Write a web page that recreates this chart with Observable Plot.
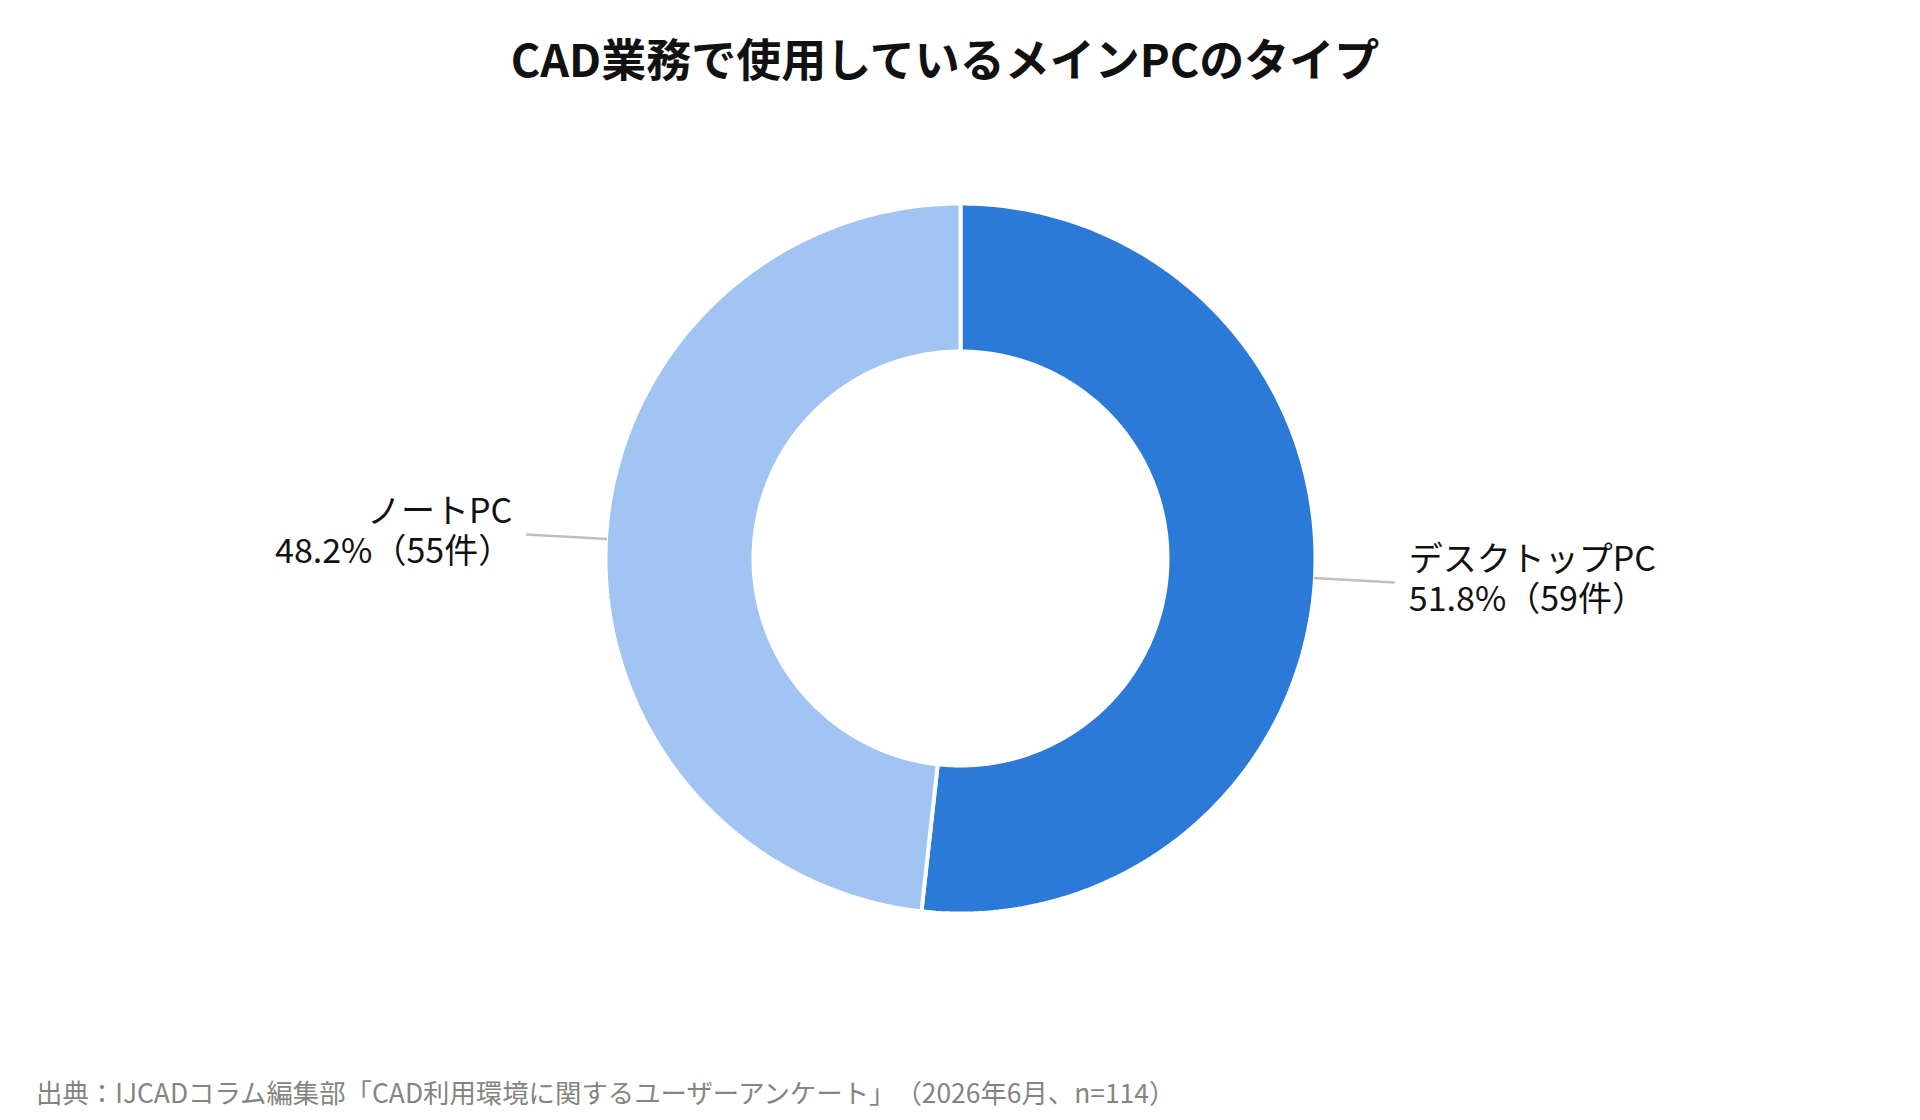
<!DOCTYPE html>
<html>
<head>
<meta charset="utf-8">
<script src="https://cdn.jsdelivr.net/npm/d3@7"></script>
<script src="https://cdn.jsdelivr.net/npm/@observablehq/plot@0.6"></script>
<style>
  html, body { margin: 0; padding: 0; background: #fff; }
  * { text-spacing-trim: space-all; }
  #wrap { position: relative; width: 1920px; height: 1120px; overflow: hidden; font-family: "Noto Sans CJK JP", "Noto Sans", sans-serif; }
  #title { position: absolute; left: 0; top: 35px; width: 1890px; text-align: center; font-size: 45px; font-weight: 700; line-height: 1; color: #111; }
  #chart { position: absolute; left: 0; top: 110px; }
  #caption { position: absolute; left: 36px; top: 1079px; font-size: 26.4px; line-height: 1; color: #85857f; white-space: nowrap; }
  svg text { text-spacing-trim: space-all; }
</style>
</head>
<body>
<div id="wrap">
  <div id="title"></div>
  <div id="chart"></div>
  <div id="caption"></div>
</div>
<script>
const titleText = "CAD業務で使用しているメインPCのタイプ";
const captionText = "出典：IJCADコラム編集部「CAD利用環境に関するユーザーアンケート」（2026年6月、n=114）";
const categories = ["デスクトップPC", "ノートPC"];
const counts = [59, 55];
const percents = [51.8, 48.2];
const colors = ["#2b7ad7", "#a1c4f3"];

document.getElementById("title").textContent = titleText;
document.getElementById("caption").textContent = captionText;

const W = 1920, H = 950;
const cy = 448;              // center from top of svg
const rOuter = 355, rInner = 207, leader = 80;

const pie = d3.pie().sort(null).value(d => d.count);
const rows = categories.map((c, i) => ({category: c, count: counts[i], percent: percents[i]}));
const arcs = pie(rows);

// polygon points for each slice (angles clockwise from top)
const poly = [];
arcs.forEach(a => {
  const n = 240;
  for (let k = 0; k <= n; k++) {
    const t = a.startAngle + (a.endAngle - a.startAngle) * k / n;
    poly.push({category: a.data.category, x: rOuter * Math.sin(t), y: rOuter * Math.cos(t)});
  }
  for (let k = n; k >= 0; k--) {
    const t = a.startAngle + (a.endAngle - a.startAngle) * k / n;
    poly.push({category: a.data.category, x: rInner * Math.sin(t), y: rInner * Math.cos(t)});
  }
});

const leaders = arcs.map(a => {
  const m = (a.startAngle + a.endAngle) / 2;
  const r0 = rOuter - 1, r1 = rOuter + leader;
  return {
    category: a.data.category,
    x1: r0 * Math.sin(m), y1: r0 * Math.cos(m),
    x2: r1 * Math.sin(m), y2: r1 * Math.cos(m),
    right: Math.sin(m) > 0,
    label: `${a.data.category}\n${a.data.percent.toFixed(1)}%（${a.data.count}件）`
  };
});

const plot = Plot.plot({
  width: W,
  height: H,
  margin: 0,
  x: {domain: [-960, 960], range: [0, W], axis: null},
  y: {domain: [cy - H, cy], range: [H, 0], axis: null},
  color: {domain: categories, range: colors},
  style: {fontFamily: "'Noto Sans CJK JP', 'Noto Sans', sans-serif", background: "white", overflow: "visible"},
  marks: [
    Plot.line(poly, {x: "x", y: "y", z: "category", fill: "category", stroke: "white", strokeWidth: 4, strokeLinejoin: "miter", curve: "linear-closed"}),
    Plot.link(leaders, {x1: "x1", y1: "y1", x2: "x2", y2: "y2", stroke: "#c0c0b8", strokeWidth: 2.5}),
    Plot.text(leaders.filter(d => d.right), {x: "x2", y: "y2", text: "label", textAnchor: "start", dx: 14, dy: -4, lineAnchor: "middle", lineHeight: 1.18, fontSize: 34, fill: "#111"}),
    Plot.text(leaders.filter(d => !d.right), {x: "x2", y: "y2", text: "label", textAnchor: "end", dx: -14, dy: -4, lineAnchor: "middle", lineHeight: 1.18, fontSize: 34, fill: "#111"})
  ]
});
document.getElementById("chart").appendChild(plot);
</script>
</body>
</html>
